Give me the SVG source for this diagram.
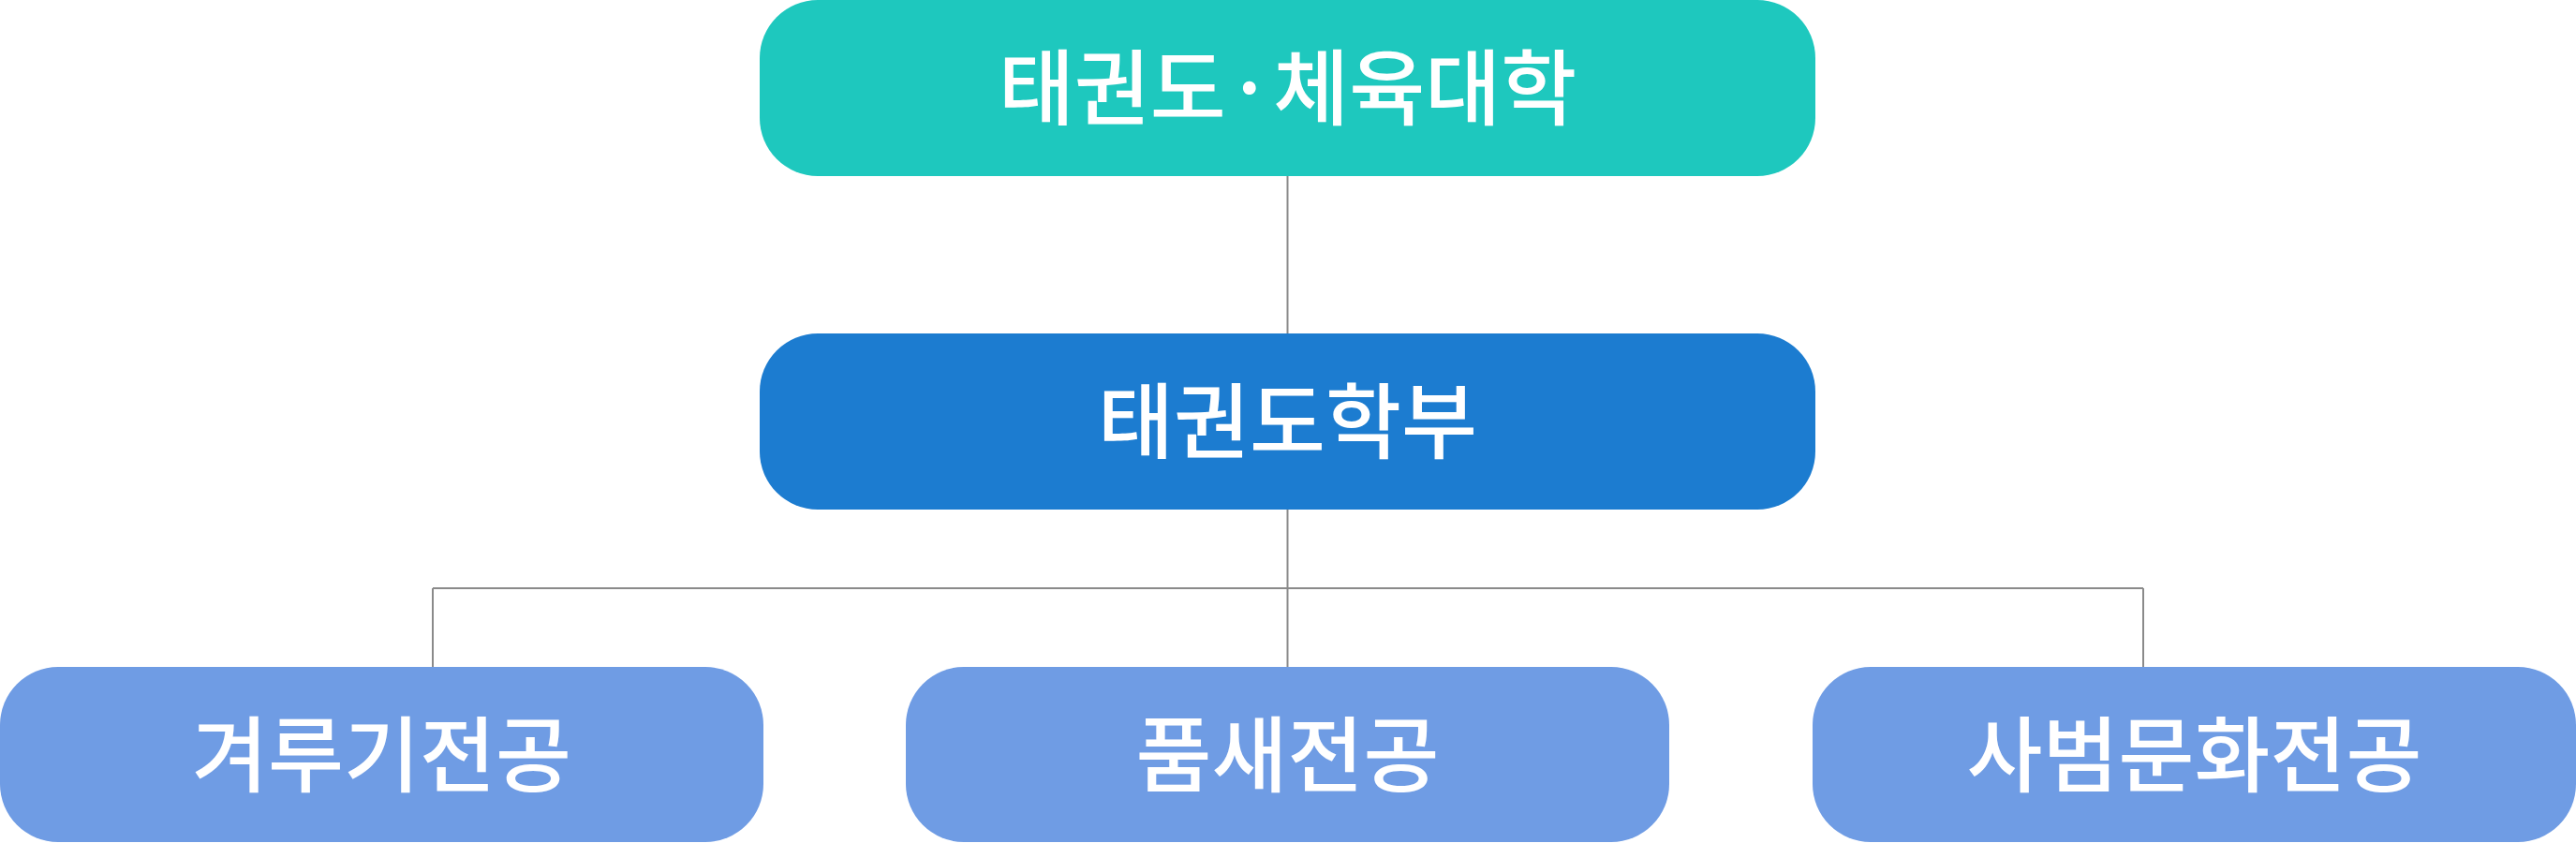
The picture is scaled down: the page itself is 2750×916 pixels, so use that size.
<svg xmlns="http://www.w3.org/2000/svg" width="2750" height="916" viewBox="0 0 2750 916">
<style>
.lbl{font-family:"Noto Sans CJK KR","Noto Sans",sans-serif;font-size:88px;font-weight:500;fill:#ffffff;text-anchor:middle}
.top{fill:#1ec8be}
.mid{fill:#1c7cd0}
.sub{fill:#6f9ce4}
.conn{stroke:#8a8a8a;stroke-width:2;fill:none}
</style>
<rect width="2750" height="916" fill="#ffffff"/>
<g id="connectors">
<line class="conn" x1="1374.5" y1="188" x2="1374.5" y2="356"/>
<line class="conn" x1="1374.5" y1="544" x2="1374.5" y2="712"/>
<line class="conn" x1="462" y1="628" x2="2288" y2="628"/>
<line class="conn" x1="462" y1="628" x2="462" y2="712"/>
<line class="conn" x1="2288" y1="628" x2="2288" y2="712"/>
</g>
<g id="node-college">
<rect class="top" x="811" y="0" width="1127" height="188" rx="62"/>
<text class="lbl" x="1374.5" y="126">태권도·체육대학</text>
</g>
<g id="node-dept">
<rect class="mid" x="811" y="356" width="1127" height="188" rx="62"/>
<text class="lbl" x="1374.5" y="482">태권도학부</text>
</g>
<g id="node-kyorugi">
<rect class="sub" x="0" y="712" width="815" height="187" rx="62"/>
<text class="lbl" x="407.5" y="838">겨루기전공</text>
</g>
<g id="node-poomsae">
<rect class="sub" x="967" y="712" width="815" height="187" rx="62"/>
<text class="lbl" x="1374.5" y="838">품새전공</text>
</g>
<g id="node-sabeom">
<rect class="sub" x="1935" y="712" width="815" height="187" rx="62"/>
<text class="lbl" x="2342.5" y="838">사범문화전공</text>
</g>
</svg>
